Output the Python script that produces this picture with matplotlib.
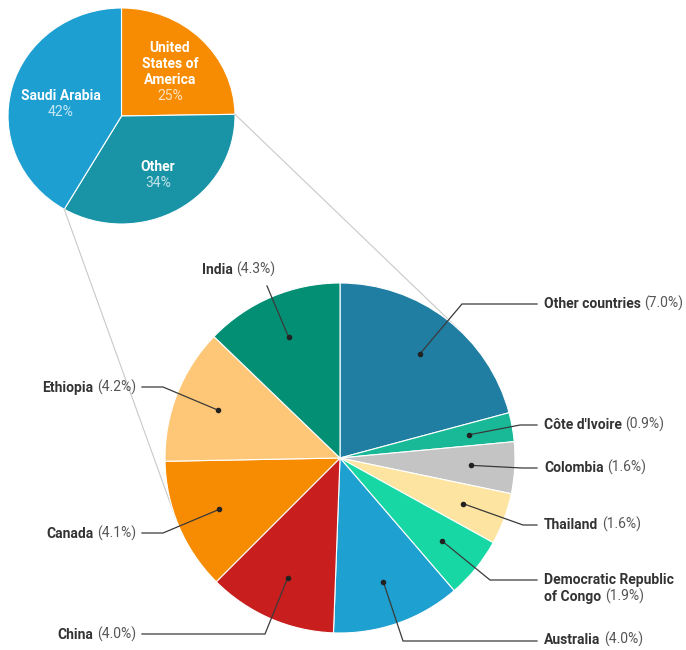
import numpy as np
import matplotlib
matplotlib.use("Agg")
import matplotlib.pyplot as plt

plt.rcParams['font.family'] = ['Roboto', 'DejaVu Sans']

W, H = 686, 650

# overview pie
top_names = ["United\nStates of\nAmerica", "Other", "Saudi Arabia"]
top_values = [25, 34, 42]
top_colors = ["#f78c02", "#1894a6", "#1d9fd2"]

# breakdown of "Other"
names = ["Other countries", "Côte d'Ivoire", "Colombia", "Thailand",
         "Democratic Republic\nof Congo", "Australia", "China", "Canada",
         "Ethiopia", "India"]
values = [7.0, 0.9, 1.6, 1.6, 1.9, 4.0, 4.0, 4.1, 4.2, 4.3]
colors = ["#1f7ea2", "#19b998", "#c4c4c4", "#fde4a0", "#17d8a4",
          "#1ea0d0", "#c81e1e", "#f78c02", "#fec777", "#028f74"]

# layout (pixel coords, y down)
BIG_C, BIG_R = (340, 458), 175
SMALL_BOX = (8, 8, 227, 216)   # x, y, w, h of the small pie
SMALL_C = (SMALL_BOX[0] + SMALL_BOX[2] / 2, SMALL_BOX[1] + SMALL_BOX[3] / 2)
FS = 10
GAP = 2.6  # points between bold name and value

# elbow point, line end, text anchor x, text y, side
leaders = [
    ((462, 304), (537, 304), 544, 304, 'r'),
    ((520, 425), (537, 425), 544, 425, 'r'),
    ((522, 468), (537, 468), 544, 468, 'r'),
    ((523, 525), (537, 525), 544, 525, 'r'),
    ((490, 580), (537, 580), 544, 580, 'r'),
    ((403, 641), (537, 641), 544, 640, 'r'),
    ((265, 634), (142, 634), 136, 634, 'l'),
    ((163, 533), (142, 533), 136, 533, 'l'),
    ((163, 387), (142, 387), 136, 387, 'l'),
    ((267, 286), (267, 286), 202, 270, 'r'),
]

fig = plt.figure(figsize=(W / 100, H / 100), dpi=100)
ax = fig.add_axes([0, 0, 1, 1])
ax.set_zorder(2)


def Y(y):
    return H - y


# big pie
ax.pie(values, colors=colors, startangle=90, counterclock=False,
       center=(BIG_C[0], Y(BIG_C[1])), radius=BIG_R,
       wedgeprops=dict(edgecolor='white', linewidth=0.8, zorder=2))
ax.set_aspect('auto')
ax.set_xlim(0, W)
ax.set_ylim(0, H)
ax.axis('off')

# small pie in its own axes, underneath the label layer
sx, sy, sw, sh = SMALL_BOX
ax2 = fig.add_axes([sx / W, (H - sy - sh) / H, sw / W, sh / H])
ax2.set_zorder(1)
ax2.pie(top_values, colors=top_colors, startangle=90, counterclock=False,
        radius=1, wedgeprops=dict(edgecolor='white', linewidth=0.8))
ax2.set_aspect('auto')
ax2.set_xlim(-1, 1)
ax2.set_ylim(-1, 1)
ax2.axis('off')

# small pie labels
top_frac = np.cumsum([0] + top_values) / sum(top_values)
top_label_pos = [(170, 64), (158, 167), (61, 96)]
for nm, v, (lx, ly) in zip(top_names, top_values, top_label_pos):
    nlines = nm.count("\n") + 1
    ax.text(lx, Y(ly), nm, ha='center', va='center', fontsize=FS,
            fontweight='bold', color='white', linespacing=1.2, zorder=5)
    ax.text(lx, Y(ly + 8 * nlines + 8), f"{v}%", ha='center', va='center',
            fontsize=FS, color='white', alpha=0.75, zorder=5)

# connector lines from small pie boundaries tangent to big pie
rx, ry = sw / 2, sh / 2
C = np.array(BIG_C, dtype=float)
for frac, side in [(top_frac[1], 1), (top_frac[2], -1)]:
    th = 2 * np.pi * frac
    P = np.array([SMALL_C[0] + rx * np.sin(th), SMALL_C[1] - ry * np.cos(th)])
    d = P - C
    dist = np.hypot(*d)
    a = np.arccos(BIG_R / dist)
    base = np.arctan2(d[1], d[0])
    cands = [C + BIG_R * np.array([np.cos(base + s * a), np.sin(base + s * a)])
             for s in (1, -1)]
    T = max(cands, key=lambda p: side * p[0])
    ax.plot([P[0], T[0]], [Y(P[1]), Y(T[1])], color='#c9c9c9', lw=0.8,
            zorder=1)

# leader lines and labels for the big pie
cum = np.cumsum([0] + values) / sum(values)
for i, (nm, v) in enumerate(zip(names, values)):
    mid = 2 * np.pi * (cum[i] + cum[i + 1]) / 2
    dx = BIG_C[0] + 0.75 * BIG_R * np.sin(mid)
    dy = BIG_C[1] - 0.75 * BIG_R * np.cos(mid)
    (ex, ey), (fx, fy), tx, ty, side = leaders[i]
    ax.plot([dx, ex, fx], [Y(dy), Y(ey), Y(fy)], color='#3a3a3a', lw=0.9,
            zorder=4, solid_joinstyle='miter')
    ax.plot(dx, Y(dy), 'o', color='#222222', ms=3, zorder=4)

    val = f"({v:.1f}%)"
    lines = nm.split("\n")
    if side == 'l':
        t = ax.text(tx, Y(ty), val, ha='right', va='center', fontsize=FS,
                    color='#555555')
        ax.annotate(lines[-1], xy=(0, 0), xycoords=t, xytext=(-GAP, 0),
                    textcoords='offset points', ha='right', va='bottom',
                    fontsize=FS, fontweight='bold', color='#333333')
    else:
        for ln in lines[:-1]:
            ax.text(tx, Y(ty), ln, ha='left', va='center', fontsize=FS,
                    fontweight='bold', color='#333333')
            ty += 17
        t = ax.text(tx, Y(ty), lines[-1], ha='left', va='center',
                    fontsize=FS, fontweight='bold', color='#333333')
        ax.annotate(val, xy=(1, 0), xycoords=t, xytext=(GAP, 0),
                    textcoords='offset points', ha='left', va='bottom',
                    fontsize=FS, color='#555555')

fig.savefig("out.png", dpi=100)
